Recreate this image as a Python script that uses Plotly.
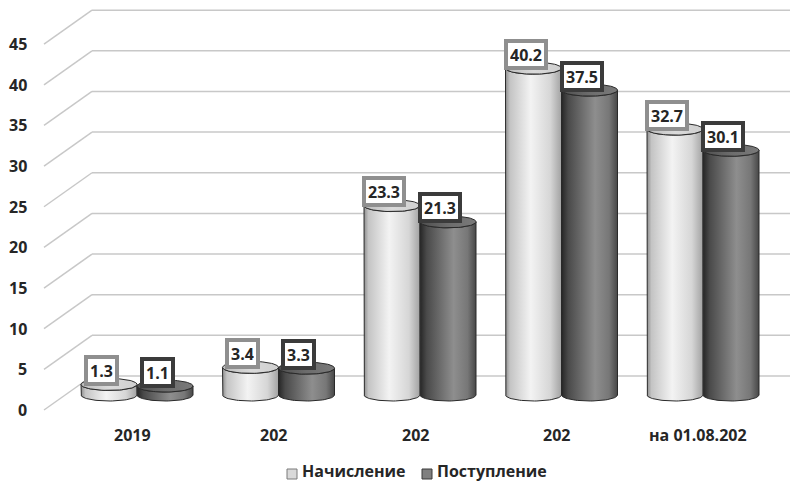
import numpy as np
import plotly.graph_objects as go

# ---- data ----
categories = ["2019", "202", "202", "202", "на 01.08.202"]
series_names = ["Начисление", "Поступление"]
accrued = [1.3, 3.4, 23.3, 40.2, 32.7]
received = [1.1, 3.3, 21.3, 37.5, 30.1]
y_ticks = [0, 5, 10, 15, 20, 25, 30, 35, 40, 45]

# ---- pseudo-3D geometry (pixels) ----
W, H = 795, 484
PX_PER_CAT = 141.5      # distance between category centres
PX_PER_UNIT = 8.13      # vertical pixels per value unit
X0_PX = 137             # centre of the first category
BASE_PX = 395           # baseline of the bar plane

FONT = "Open Sans"
TEXT_COLOR = "#262626"


def xu(px):
    """pixel offset -> x data units"""
    return px / PX_PER_CAT


def yu(px):
    """pixel offset -> y data units"""
    return px / PX_PER_UNIT


x_range = [-X0_PX / PX_PER_CAT, (W - X0_PX) / PX_PER_CAT]
y_range = [-(H - BASE_PX) / PX_PER_UNIT, BASE_PX / PX_PER_UNIT]

# wall corners relative to the bar plane
WALL_FRONT_X = xu(44 - X0_PX)
WALL_BACK_X = xu(92 - X0_PX)
WALL_RIGHT_X = xu(790 - X0_PX)
FRONT_DY = -yu(15)
BACK_DY = yu(19)

HALF_W = xu(28)         # cylinder radius (horizontal)
CAP_H = yu(6)           # cylinder cap half height

SERIES_STYLE = [
    dict(
        body=[[0, "#8e8e8e"], [0.08, "#c4c4c4"], [0.45, "#f3f3f3"],
              [0.8, "#d6d6d6"], [1, "#a2a2a2"]],
        cap=[[0, "#bcbcbc"], [0.5, "#dadada"], [1, "#cfcfcf"]],
        box="#8f8f8f",
        legend_fill="#d9d9d9",
        legend_line="#7a7a7a",
        offset=-HALF_W,
    ),
    dict(
        body=[[0, "#262626"], [0.12, "#4a4a4a"], [0.6, "#8e8e8e"],
              [0.85, "#777777"], [1, "#474747"]],
        cap=[[0, "#4e4e4e"], [0.5, "#6c6c6c"], [1, "#7a7a7a"]],
        box="#3b3b3b",
        legend_fill="#7f7f7f",
        legend_line="#3b3b3b",
        offset=HALF_W,
    ),
]

fig = go.Figure()
shapes = []
annotations = []

# gridlines: diagonal on the side wall, horizontal on the back wall
for v in y_ticks:
    shapes.append(dict(type="line", xref="x", yref="y",
                       x0=WALL_FRONT_X, y0=v + FRONT_DY,
                       x1=WALL_BACK_X, y1=v + BACK_DY,
                       line=dict(color="#c8c8c8", width=1.5), layer="below"))
    shapes.append(dict(type="line", xref="x", yref="y",
                       x0=WALL_BACK_X, y0=v + BACK_DY,
                       x1=WALL_RIGHT_X, y1=v + BACK_DY,
                       line=dict(color="#c8c8c8", width=1.5), layer="below"))
    annotations.append(dict(x=WALL_FRONT_X, y=v + FRONT_DY, xref="x", yref="y",
                            text=str(v), showarrow=False, xanchor="right",
                            yanchor="middle", xshift=-15,
                            font=dict(family=FONT, size=16, color=TEXT_COLOR,
                                      weight=700)))

t = np.linspace(0, np.pi, 40)
tt = np.linspace(0, 2 * np.pi, 80)

for s, values in enumerate([accrued, received]):
    st = SERIES_STYLE[s]
    for i, v in enumerate(values):
        cx = i + st["offset"]
        # body: left side, bottom arc, right side, front arc of the top
        bx = np.concatenate([[cx - HALF_W], cx - HALF_W * np.cos(t),
                             [cx + HALF_W], cx + HALF_W * np.cos(t)])
        by = np.concatenate([[v], -CAP_H * np.sin(t),
                             [v], v - CAP_H * np.sin(t)])
        fig.add_trace(go.Scatter(
            x=bx, y=by, mode="lines", fill="toself",
            fillgradient=dict(type="horizontal", colorscale=st["body"]),
            line=dict(color="#2a2a2a", width=1), hoverinfo="skip",
            showlegend=False))
        # top cap
        fig.add_trace(go.Scatter(
            x=cx + HALF_W * np.cos(tt), y=v + CAP_H * np.sin(tt),
            mode="lines", fill="toself",
            fillgradient=dict(type="horizontal", colorscale=st["cap"]),
            line=dict(color="#2a2a2a", width=1), hoverinfo="skip",
            showlegend=False))
        # value label
        annotations.append(dict(
            x=cx, y=v, xref="x", yref="y", text=f"{v:.1f}", showarrow=False,
            xanchor="center", yanchor="middle", xshift=-8, yshift=14,
            height=19,
            bgcolor="white", bordercolor=st["box"], borderwidth=4, borderpad=2,
            font=dict(family=FONT, size=16, color=TEXT_COLOR, weight=700)))

# category labels
for i, c in enumerate(categories):
    annotations.append(dict(x=i, y=0, xref="x", yref="y", text=c, showarrow=False,
                            xanchor="center", yanchor="middle", yshift=-40,
                            xshift=-5,
                            font=dict(family=FONT, size=16, color=TEXT_COLOR,
                                      weight=700)))

# legend
legend_x = [287, 422]
legend_sq_y = 474
for s, name in enumerate(series_names):
    x0 = legend_x[s]
    st = SERIES_STYLE[s]
    shapes.append(dict(type="rect", xref="paper", yref="paper",
                       x0=x0 / W, x1=(x0 + 10) / W,
                       y0=1 - (legend_sq_y + 5) / H, y1=1 - (legend_sq_y - 5) / H,
                       fillcolor=st["legend_fill"],
                       line=dict(color=st["legend_line"], width=1)))
    annotations.append(dict(x=(x0 + 13) / W, y=0, xref="paper",
                            yref="paper", text=name, showarrow=False,
                            xanchor="left", yanchor="bottom",
                            font=dict(family=FONT, size=16, color=TEXT_COLOR,
                                      weight=700)))

fig.update_layout(
    width=W, height=H,
    margin=dict(l=0, r=0, t=0, b=0),
    paper_bgcolor="white", plot_bgcolor="white",
    showlegend=False,
    xaxis=dict(range=x_range, visible=False, fixedrange=True),
    yaxis=dict(range=y_range, visible=False, fixedrange=True),
    shapes=shapes, annotations=annotations,
)

fig.write_html("out.html")
